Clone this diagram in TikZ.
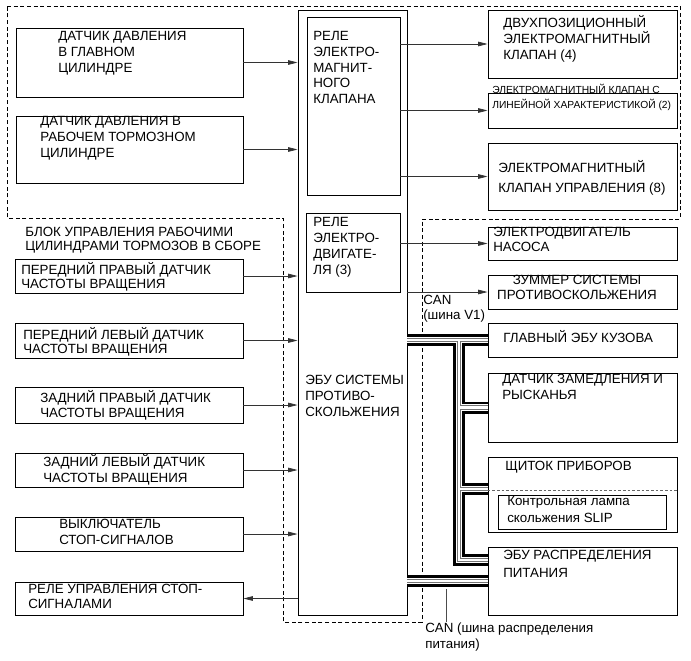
\documentclass[tikz,border=0pt]{standalone}
\usepackage{fontspec}
\setmainfont{Liberation Sans}
\usetikzlibrary{arrows.meta,positioning,calc,fit}
\tikzset{
  blk/.style={draw=black,line width=0.7pt,inner sep=0pt},
  lbl/.style={anchor=north west,inner sep=0pt,align=left,yshift=5.9pt,
              font=\fontsize{10}{#1}\selectfont,
              execute at begin node={\rule{0pt}{9.5pt}}},
  lbl/.default=12,
  lblsm/.style={lbl,yshift=6.7pt,font=\fontsize{7.7}{11.2}\selectfont},
  sig/.style={-{Triangle[length=7pt,width=3.4pt]},black!80,line width=0.55pt},
  zone/.style={draw=black,line width=0.7pt,dash pattern=on 3pt off 2pt},
  can/.style={draw=black,line width=9pt,
              postaction={draw=white,line width=4.9pt},
              postaction={draw=black!55,line width=3.4pt},
              postaction={draw=white,line width=1.9pt}},
}

\begin{document}
\begin{tikzpicture}[x=0.75pt,y=-0.75pt]
  \useasboundingbox (0,0) rectangle (691,660);
  \draw[zone] (7,6) -- (680,6) -- (680,219) -- (422,219) -- (422,622)
    -- (283,622) -- (283,218) -- (7,218) -- cycle;

  % pressure sensors
  \node[blk,fit={(16,28)(243,97)}] (pmc) {};
  \node[lbl] (pmc-t) at (58,39) {ДАТЧИК ДАВЛЕНИЯ\\В ГЛАВНОМ\\ЦИЛИНДРЕ};
  \node[blk,fit={(16,116)(243,183)}] (pwc) {};
  \node[lbl] (pwc-t) at (40,124) {ДАТЧИК ДАВЛЕНИЯ В\\РАБОЧЕМ ТОРМОЗНОМ\\ЦИЛИНДРЕ};

  % ECU with relays
  \node[blk,fit={(298,10)(407,615)}] (ecu) {};
  \node[blk,fit={(307,17)(400,195)}] (solrel) {};
  \node[lbl=11.85] (solrel-t) at (313,39) {РЕЛЕ\\ЭЛЕКТРО-\\МАГНИТ-\\НОГО\\КЛАПАНА};
  \node[blk,fit={(306,213)(400,292)}] (motrel) {};
  \node[lbl] (motrel-t) at (313,225) {РЕЛЕ\\ЭЛЕКТРО-\\ДВИГАТЕ-\\ЛЯ (3)};
  \node[lbl] (ecu-t) at (305,383) {ЭБУ СИСТЕМЫ\\ПРОТИВО-\\СКОЛЬЖЕНИЯ};

  % valves and actuators
  \node[blk,fit={(488,10)(677,78)}] (sv1) {};
  \node[lbl] (sv1-t) at (503,23) {ДВУХПОЗИЦИОННЫЙ\\ЭЛЕКТРОМАГНИТНЫЙ\\КЛАПАН (4)};
  \node[blk,fit={(488,93)(677,128)}] (sv2) {};
  \node[lblsm] (sv2-t) at (492,101) {ЭЛЕКТРОМАГНИТНЫЙ КЛАПАН С\\ЛИНЕЙНОЙ ХАРАКТЕРИСТИКОЙ (2)};
  \node[blk,fit={(488,143)(677,210)}] (sv3) {};
  \node[lbl=15] (sv3-t) at (498,168) {ЭЛЕКТРОМАГНИТНЫЙ\\КЛАПАН УПРАВЛЕНИЯ (8)};
  \node[blk,fit={(488,227)(677,260)}] (pump) {};
  \node[lbl=11.25] (pump-t) at (493,235) {ЭЛЕКТРОДВИГАТЕЛЬ\\НАСОСА};
  \node[blk,fit={(488,275)(677,309)}] (buzz) {};
  \node[lbl=11.25,anchor=north,align=center] (buzz-t) at (577,283)
    {ЗУММЕР СИСТЕМЫ\\ПРОТИВОСКОЛЬЖЕНИЯ};

  % CAN nodes
  \node[blk,fit={(488,323)(677,357)}] (gmain) {};
  \node[lbl] (gmain-t) at (503,337) {ГЛАВНЫЙ ЭБУ КУЗОВА};
  \node[blk,fit={(488,373)(677,442)}] (decel) {};
  \node[lbl] (decel-t) at (502,382) {ДАТЧИК ЗАМЕДЛЕНИЯ И\\РЫСКАНЬЯ};
  \node[blk,fit={(488,457)(677,532)}] (meter) {};
  \node[lbl] (meter-t) at (505,465) {ЩИТОК ПРИБОРОВ};
  \draw[black!60,line width=0.6pt,dash pattern=on 2pt off 1.5pt]
    ($(meter.north west)+(0,34)$) -- ($(meter.north east)+(0,34)$);
  \node[blk,fit={(498,495)(666,529)}] (lamp) {};
  \node[lbl=12.75] (lamp-t) at (507,504) {Контрольная лампа\\скольжения SLIP};
  \node[blk,fit={(488,547)(677,615)}] (pdu) {};
  \node[lbl=13] (pdu-t) at (503,558) {ЭБУ РАСПРЕДЕЛЕНИЯ\\ПИТАНИЯ};

  % wheel speed sensors, stop lamp
  \node[lbl=10.7] (blk-t) at (25,235) {БЛОК УПРАВЛЕНИЯ РАБОЧИМИ\\ЦИЛИНДРАМИ ТОРМОЗОВ В СБОРЕ};
  \node[blk,fit={(15,259)(243,293)}] (fr) {};
  \node[lbl=10.9] (fr-t) at (21,270) {ПЕРЕДНИЙ ПРАВЫЙ ДАТЧИК\\ЧАСТОТЫ ВРАЩЕНИЯ};
  \node[blk,fit={(15,323)(243,358)}] (fl) {};
  \node[lbl=10.9] (fl-t) at (23,335) {ПЕРЕДНИЙ ЛЕВЫЙ ДАТЧИК\\ЧАСТОТЫ ВРАЩЕНИЯ};
  \node[blk,fit={(15,387)(243,423)}] (rr) {};
  \node[lbl=11.25] (rr-t) at (40,398) {ЗАДНИЙ ПРАВЫЙ ДАТЧИК\\ЧАСТОТЫ ВРАЩЕНИЯ};
  \node[blk,fit={(15,453)(243,487)}] (rl) {};
  \node[lbl] (rl-t) at (43,462) {ЗАДНИЙ ЛЕВЫЙ ДАТЧИК\\ЧАСТОТЫ ВРАЩЕНИЯ};
  \node[blk,fit={(15,517)(243,551)}] (stsw) {};
  \node[lbl] (stsw-t) at (59,527) {ВЫКЛЮЧАТЕЛЬ\\СТОП-СИГНАЛОВ};
  \node[blk,fit={(15,582)(243,615)}] (strel) {};
  \node[lbl=11.25] (strel-t) at (28,592) {РЕЛЕ УПРАВЛЕНИЯ СТОП-\\СИГНАЛАМИ};

  % signal lines
  \foreach \n in {pmc,pwc,fr,fl,rr,rl,stsw}
    \draw[sig] (\n.east) -- (\n.east -| ecu.west);
  \draw[sig] (strel.east -| ecu.west) -- (strel.east);
  \foreach \n in {sv1,sv2,sv3}
    \draw[sig] (solrel.east |- \n.west) -- (\n.west);
  \draw[sig] (motrel.east |- pump.west) -- (pump.west);
  \draw[sig] (ecu.east |- buzz.west) -- (buzz.west);

  % CAN buses
  \coordinate (drop) at (459,340);
  \coordinate (meter-in) at ($(meter.north west)+(0,32.5)$);
  \coordinate (pdu-in) at ($(pdu.north west)+(0,13.5)$);
  \path[can] (ecu.east |- gmain.west) -- (gmain.west)
    (drop) -- (drop |- pdu-in) -- (pdu-in)
    (drop |- decel.west) -- (decel.west)
    (drop |- meter-in) -- (meter-in)
    (ecu.east |- pdu.west) -- (pdu.west);
  \node[lbl=11.25] (canv1) at (423,303) {CAN\\(шина V1)};
  \node[lbl] (canpd) at (425,630) {CAN (шина распределения\\питания)};
  \coordinate (canpd-tip) at (446,589);
  \draw[black!70,line width=0.55pt] (canpd-tip) -- (canpd-tip |- 0,622);
\end{tikzpicture}
\end{document}
